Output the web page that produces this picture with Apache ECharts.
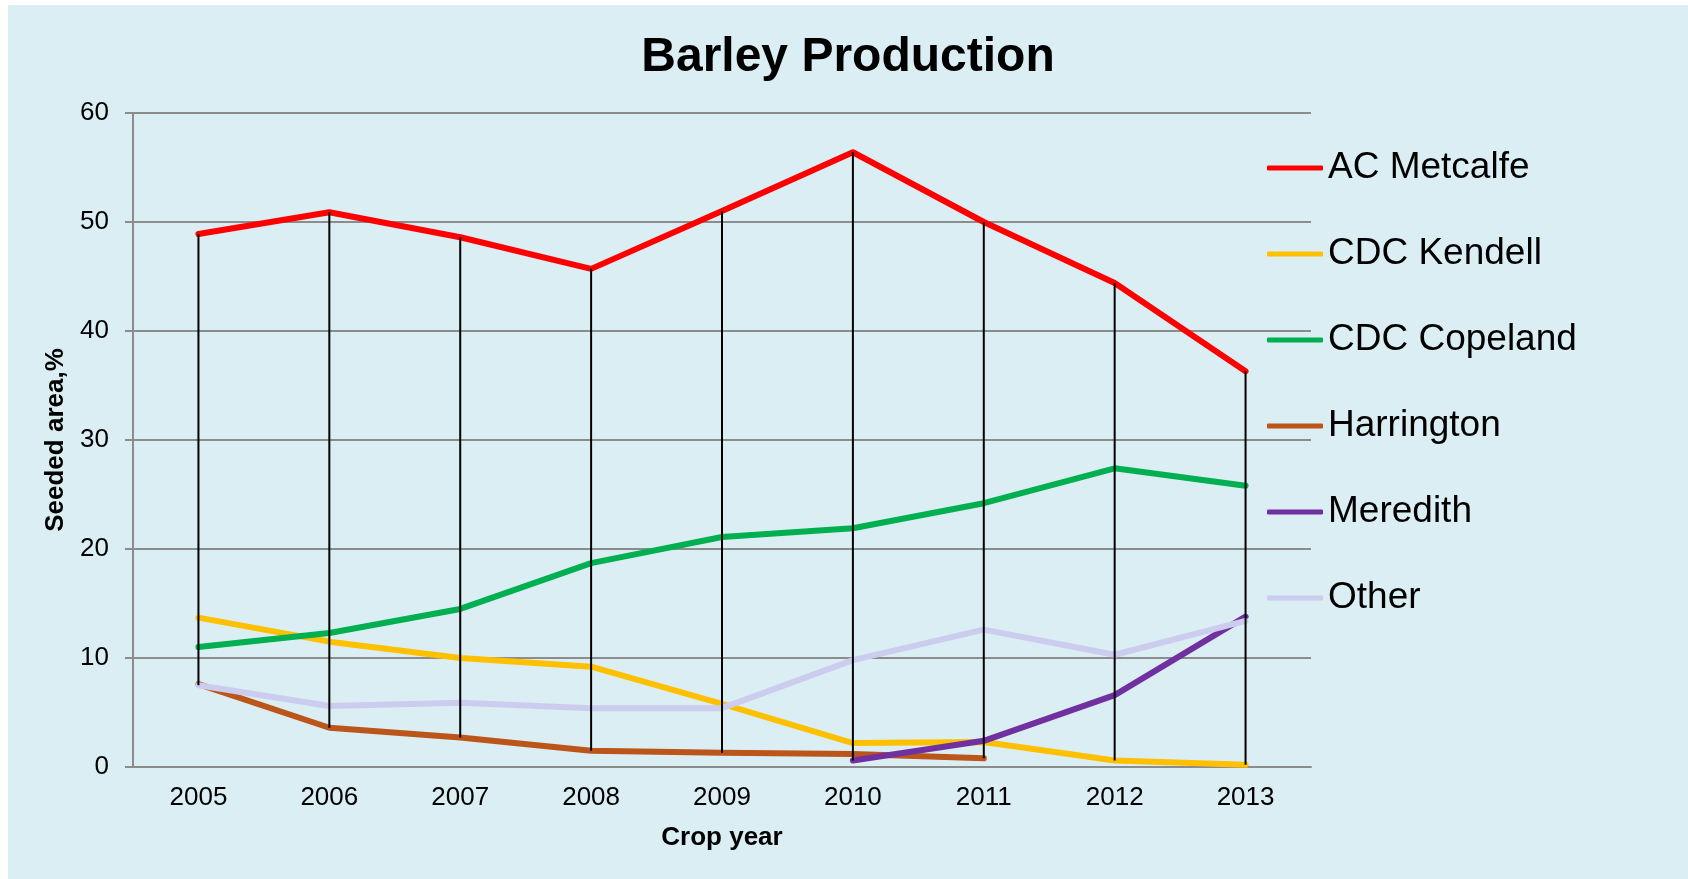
<!DOCTYPE html>
<html>
<head>
<meta charset="utf-8">
<script src="https://cdn.jsdelivr.net/npm/echarts@6/dist/echarts.min.js"></script>
<style>
  html, body { margin: 0; padding: 0; background: #ffffff; }
  #chart-barley { position: absolute; left: 8px; top: 5px; width: 1680px; height: 874px; }
</style>
</head>
<body>
<div id="chart-barley"></div>
<script>
const years = ['2005', '2006', '2007', '2008', '2009', '2010', '2011', '2012', '2013'];
const acMetcalfe = [48.9, 50.9, 48.6, 45.7, 51.0, 56.4, 50.0, 44.4, 36.3];
const cdcKendell = [13.7, 11.5, 10.0, 9.2, 5.8, 2.2, 2.3, 0.6, 0.2];
const cdcCopeland = [11.0, 12.3, 14.5, 18.7, 21.1, 21.9, 24.2, 27.4, 25.8];
const harrington = [7.6, 3.6, 2.7, 1.5, 1.3, 1.2, 0.8, null, null];
const meredith = [null, null, null, null, null, 0.6, 2.4, 6.6, 13.8];
const other = [7.5, 5.6, 5.9, 5.4, 5.4, 9.8, 12.6, 10.3, 13.4];
const yTicks = [0, 10, 20, 30, 40, 50, 60];

const seriesDefs = [
  { name: 'AC Metcalfe', data: acMetcalfe, color: '#ff0000' },
  { name: 'CDC Kendell', data: cdcKendell, color: '#ffc000' },
  { name: 'CDC Copeland', data: cdcCopeland, color: '#00b050' },
  { name: 'Harrington', data: harrington, color: '#bb5519' },
  { name: 'Meredith', data: meredith, color: '#7030a0' },
  { name: 'Other', data: other, color: '#ccccee' },
];

// high-low lines: from the highest to the lowest value in each year
const highLow = years.map((y, i) => {
  const vals = seriesDefs.map((s) => s.data[i]).filter((v) => v != null);
  return [i, Math.max(...vals), Math.min(...vals)];
});

const font = 'Liberation Sans';
const chart = echarts.init(document.getElementById('chart-barley'), null, { width: 1680, height: 874 });
chart.setOption({
  animation: false,
  backgroundColor: '#daeef3',
  textStyle: { fontFamily: font },
  title: {
    text: 'Barley Production',
    left: 'center',
    top: 29,
    padding: 0,
    textStyle: { fontFamily: font, fontSize: 48, fontWeight: 'bold', color: '#000' },
  },
  legend: {
    orient: 'vertical',
    left: 1259,
    top: 143,
    padding: 0,
    itemWidth: 56,
    itemHeight: 5,
    itemGap: 46,
    icon: 'roundRect',
    data: seriesDefs.map((s) => s.name),
    textStyle: { fontFamily: font, fontSize: 37, lineHeight: 40, color: '#000' },
  },
  grid: {
    left: 125,
    top: 108,
    right: 377,
    bottom: 112,
    containLabel: false,
  },
  xAxis: {
    type: 'category',
    data: years,
    name: 'Crop year',
    nameLocation: 'middle',
    nameGap: 58,
    nameTextStyle: { fontFamily: font, fontSize: 26, fontWeight: 'bold', color: '#000' },
    axisLine: { lineStyle: { color: '#8c8c8c', width: 2 } },
    axisTick: { show: false },
    axisLabel: { fontFamily: font, fontSize: 26, color: '#000', margin: 18 },
  },
  yAxis: {
    type: 'value',
    min: yTicks[0],
    max: yTicks[yTicks.length - 1],
    interval: 10,
    name: 'Seeded area,%',
    nameLocation: 'middle',
    nameGap: 64,
    nameTextStyle: { fontFamily: font, fontSize: 26, fontWeight: 'bold', color: '#000' },
    axisLine: { show: true, lineStyle: { color: '#8c8c8c', width: 2 } },
    axisTick: { show: true, length: 8, lineStyle: { color: '#8c8c8c', width: 2 } },
    axisLabel: { fontFamily: font, fontSize: 26, color: '#000', margin: 24 },
    splitLine: { lineStyle: { color: '#8c8c8c', width: 2 } },
  },
  series: [
    ...seriesDefs.map((s) => ({
      name: s.name,
      type: 'line',
      data: s.data,
      symbol: 'none',
      color: s.color,
      lineStyle: { color: s.color, width: 6, cap: 'round', join: 'round' },
    })),
    {
      name: 'High-Low',
      type: 'custom',
      data: highLow,
      z: 5,
      renderItem: (params, api) => {
        const top = api.coord([api.value(0), api.value(1)]);
        const bottom = api.coord([api.value(0), api.value(2)]);
        return {
          type: 'line',
          shape: { x1: top[0], y1: top[1], x2: bottom[0], y2: bottom[1] },
          style: { stroke: '#000', lineWidth: 2 },
        };
      },
    },
  ],
});
</script>
</body>
</html>
